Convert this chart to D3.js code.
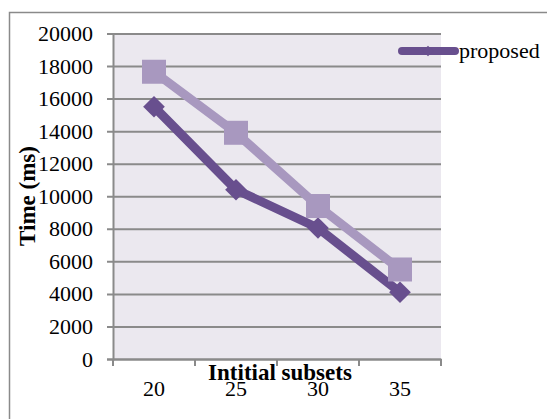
<!DOCTYPE html>
<html><head><meta charset="utf-8">
<script src="https://cdn.jsdelivr.net/npm/d3@7"></script>
<style>body{margin:0;background:#fff}svg{display:block}
svg text{font-family:'Liberation Serif','Times New Roman',Times,'DejaVu Serif',serif !important;fill:#000}</style>
</head><body><svg id="c" width="547" height="419"></svg>
<script>
const categories = ["20","25","30","35"];
const proposed = [15500, 10400, 8050, 4100];
const other = [17650, 13900, 9400, 5500];
const yTicks = [0,2000,4000,6000,8000,10000,12000,14000,16000,18000,20000];
const seriesNames = ["proposed"];

const svg = d3.select("#c");
const L=113, R=441, T=33.5, B=359;
svg.append("rect").attr("x",9.5).attr("y",12.5).attr("width",560).attr("height",420)
  .attr("fill","#fff").attr("stroke","#8a8a8a").attr("stroke-width",1.5);

const x = d3.scaleBand().domain(categories).range([L,R]);
const y = d3.scaleLinear().domain([0,20000]).range([B,T]);

svg.append("rect").attr("x",L).attr("y",T).attr("width",R-L).attr("height",B-T).attr("fill","#ebe8ef");

const ya = svg.append("g").attr("transform",`translate(${L},0)`)
  .call(d3.axisLeft(y).tickValues(yTicks).tickSize(6).tickPadding(14).tickFormat(d3.format("d")));
ya.attr("font-family",null);
ya.select(".domain").attr("stroke","#8a8a8a").attr("stroke-width",2);
ya.selectAll(".tick line").attr("stroke","#8a8a8a").attr("stroke-width",2).attr("x2",R-L).attr("x1",-6);
ya.selectAll(".tick text").attr("font-size",22).attr("fill","#000");

const xa = svg.append("g").attr("transform",`translate(0,${B})`)
  .call(d3.axisBottom(x).tickSize(0).tickPadding(21));
xa.attr("font-family",null);
xa.select(".domain").attr("stroke","#8a8a8a").attr("stroke-width",2);
xa.selectAll(".tick text").attr("font-size",22).attr("fill","#000");
const bounds = categories.map(c=>x(c)).concat([R]);
svg.append("g").selectAll("line").data(bounds).join("line")
  .attr("x1",d=>d).attr("x2",d=>d).attr("y1",B).attr("y2",B+7)
  .attr("stroke","#8a8a8a").attr("stroke-width",2);

const cx = c => x(c)+x.bandwidth()/2;
const line = d3.line().x((d,i)=>cx(categories[i])).y(d=>y(d));

const dark="#684f8e", light="#a898bf";
svg.append("path").datum(proposed).attr("d",line).attr("fill","none")
  .attr("stroke",dark).attr("stroke-width",9).attr("stroke-linejoin","round");
svg.append("g").selectAll("path").data(proposed).join("path")
  .attr("d",d3.symbol(d3.symbolDiamond2 || d3.symbolDiamond, 300)())
  .attr("transform",(d,i)=>`translate(${cx(categories[i])},${y(d)})`)
  .attr("fill",dark);
svg.append("path").datum(other).attr("d",line).attr("fill","none")
  .attr("stroke",light).attr("stroke-width",9).attr("stroke-linejoin","round");
svg.append("g").selectAll("rect").data(other).join("rect")
  .attr("x",(d,i)=>cx(categories[i])-12).attr("y",d=>y(d)-12)
  .attr("width",24).attr("height",24).attr("fill",light);

svg.append("line").attr("x1",402).attr("x2",455).attr("y1",51).attr("y2",51)
  .attr("stroke",dark).attr("stroke-width",8).attr("stroke-linecap","round");
svg.append("path").attr("d",d3.symbol(d3.symbolDiamond2 || d3.symbolDiamond,70)())
  .attr("transform","translate(428,51)").attr("fill",dark);
svg.append("text").attr("x",459).attr("y",58).attr("font-size",22).text(seriesNames[0]);

svg.append("text").attr("transform","translate(35,196) rotate(-90)").attr("text-anchor","middle")
  .attr("font-size",23).attr("font-weight","bold").text("Time (ms)");
svg.append("text").attr("x",280).attr("y",380).attr("text-anchor","middle")
  .attr("font-size",23).attr("font-weight","bold").text("Intitial subsets");
</script></body></html>
